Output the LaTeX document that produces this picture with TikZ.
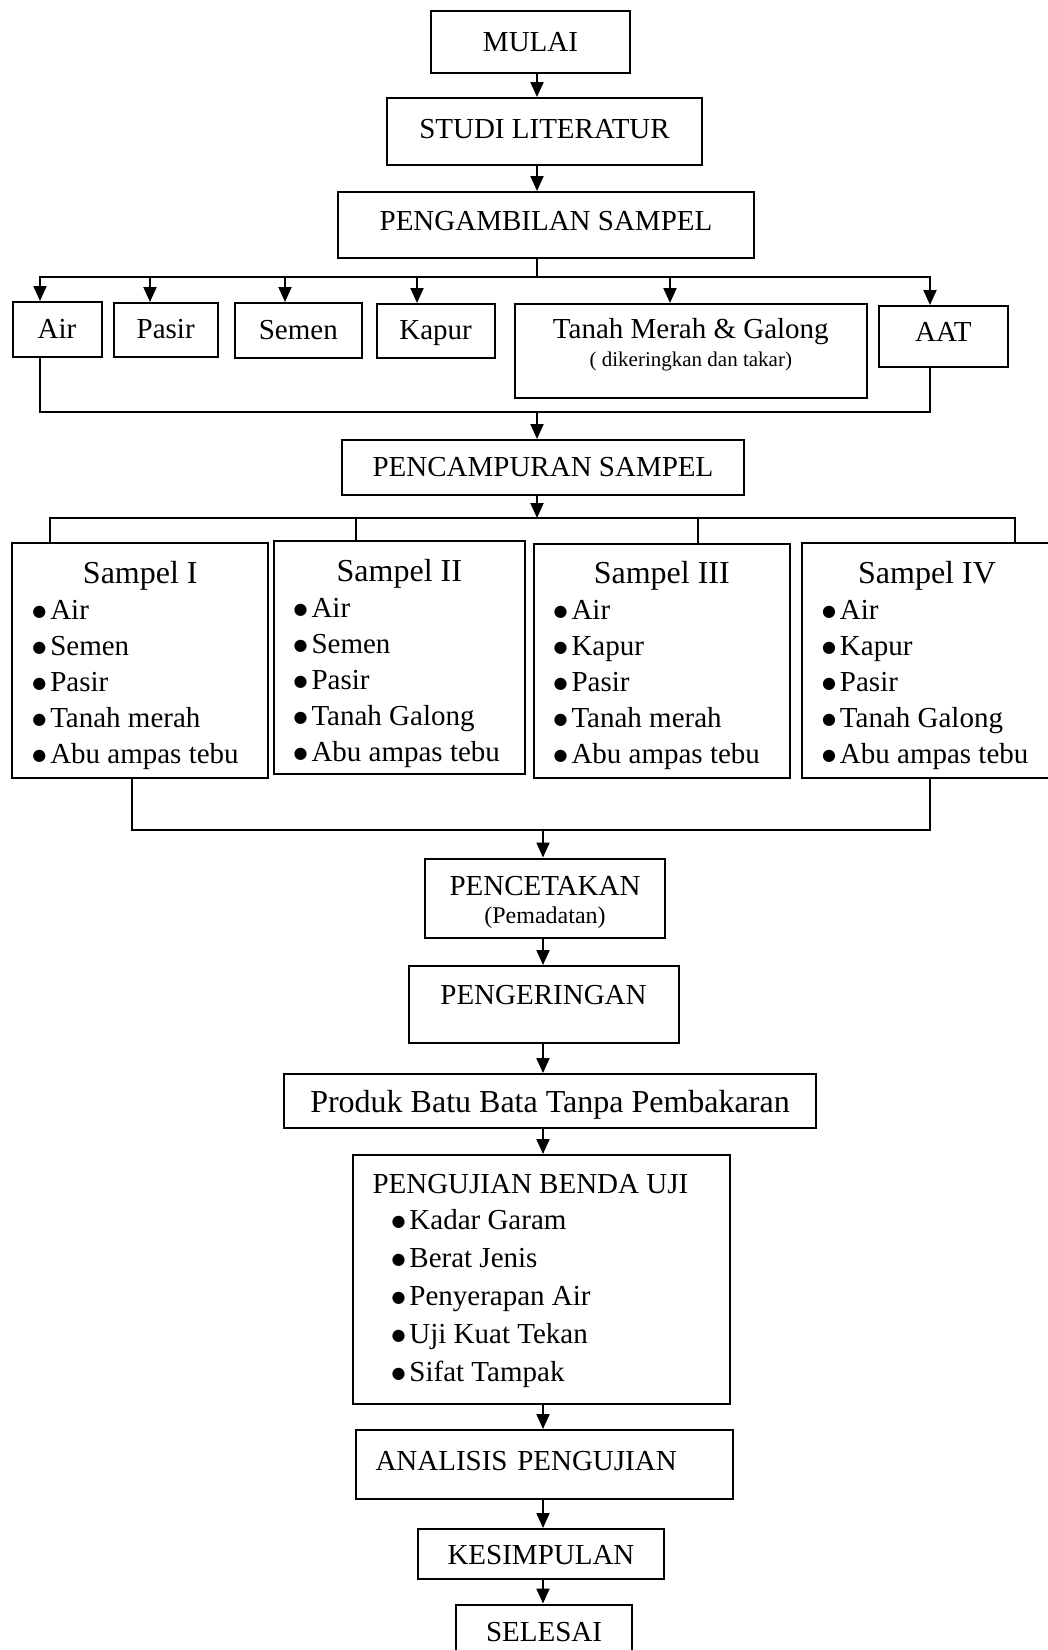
\documentclass[tikz,border=0pt]{standalone}
\usepackage{fontspec}
\setmainfont{Liberation Serif}
\newfontfamily\simbol{DejaVu Sans}
\newcommand{\titik}{{\simbol\fontsize{16}{16}\selectfont\raisebox{2.5pt}{●}}\hspace{4pt}}
\usepackage{tikz}
\usetikzlibrary{arrows.meta,positioning}

\begin{document}
\begin{tikzpicture}[x=1pt, y=-1pt,
    font=\fontsize{29}{36}\selectfont,
    box/.style={draw, line width=2pt, inner sep=0pt, anchor=north},
    garis/.style={line width=2pt},
    panah/.style={line width=2pt, -{Triangle[length=15pt, width=13pt]}}]
    \useasboundingbox (0,0) rectangle (1048,1650);

    % sumbu tengah dan titik cabang
    \coordinate (axis) at (537,0);
    \coordinate (axisb) at (543,0);
    \coordinate (bus1) at (537,277);
    \coordinate (kumpul1) at (537,412);
    \coordinate (bus2) at (537,518);
    \coordinate (kumpul2) at (543,830);

    % Mulai - pengambilan sampel
    \node[box, minimum width=199pt, text height=40pt, text depth=22pt] (mulai) at (530.5,10) {MULAI};
    \node[box, minimum width=315pt, text height=40pt, text depth=27pt] (studi) at (544.5,97) {STUDI LITERATUR};
    \node[box, minimum width=416pt, text height=38pt, text depth=28pt] (ambil) at (546,191) {PENGAMBILAN SAMPEL};
    \draw[panah] (mulai.south -| axis) -- (studi.north -| axis);
    \draw[panah] (studi.south -| axis) -- (ambil.north -| axis);
    \draw[garis] (ambil.south -| axis) -- (bus1);

    % Bahan
    \node[box, minimum width=89pt, text height=36pt, text depth=19pt] (air) at (57,301) {Air};
    \node[box, minimum width=104pt, text height=35pt, text depth=19pt] (pasir) at (165.7,302) {Pasir};
    \node[box, minimum width=127pt, text height=36pt, text depth=19pt] (semen) at (298.3,302) {Semen};
    \node[box, minimum width=118pt, text height=35pt, text depth=19pt] (kapur) at (435.6,303) {Kapur};
    \node[box, minimum width=352pt, text height=34pt, text depth=60pt] (tanah) at (690.8,303)
        {\begin{tabular}[t]{@{}c@{}}Tanah Merah \& Galong\\[-8pt]
         {\fontsize{21}{24}\selectfont ( dikeringkan dan takar)}\end{tabular}};
    \node[box, minimum width=129pt, text height=35pt, text depth=26pt] (aat) at (943.3,305) {AAT};

    \draw[garis, line cap=rect] (40,277) -- (930,277);
    \foreach \n/\x in {air/40, pasir/150, semen/285, kapur/417, tanah/670, aat/930}
        \draw[panah] (\x,277) -- (\x,0 |- \n.north);
    \draw[garis] (40,0 |- air.south) -- (40,412) -- (930,412) -- (930,0 |- aat.south);

    % Pencampuran
    \node[box, minimum width=402pt, text height=36pt, text depth=19pt] (campur) at (543,439) {PENCAMPURAN SAMPEL};
    \draw[panah] (kumpul1) -- (campur.north -| axis);
    \draw[panah] (campur.south -| axis) -- (bus2);

    % Sampel I - IV
    \node[box, inner xsep=20pt, text height=40pt, text depth=195pt] (s1) at (140.3,542)
        {\begin{tabular}[t]{@{}p{216pt}@{}}\multicolumn{1}{c}{\fontsize{32}{36}\selectfont Sampel I}\\
         \titik Air\\ \titik Semen\\ \titik Pasir\\ \titik Tanah merah\\ \titik Abu ampas tebu\end{tabular}};
    \node[box, inner xsep=20pt, text height=40pt, text depth=193pt] (s2) at (399.3,540)
        {\begin{tabular}[t]{@{}p{211.5pt}@{}}\multicolumn{1}{c}{\fontsize{32}{36}\selectfont Sampel II}\\
         \titik Air\\ \titik Semen\\ \titik Pasir\\ \titik Tanah Galong\\ \titik Abu ampas tebu\end{tabular}};
    \node[box, inner xsep=20pt, text height=39pt, text depth=195pt] (s3) at (661.8,543)
        {\begin{tabular}[t]{@{}p{216.5pt}@{}}\multicolumn{1}{c}{\fontsize{32}{36}\selectfont Sampel III}\\
         \titik Air\\ \titik Kapur\\ \titik Pasir\\ \titik Tanah merah\\ \titik Abu ampas tebu\end{tabular}};
    \node[box, inner xsep=20pt, text height=40pt, text depth=195pt] (s4) at (927,542)
        {\begin{tabular}[t]{@{}p{210pt}@{}}\multicolumn{1}{c}{\fontsize{32}{36}\selectfont Sampel IV}\\
         \titik Air\\ \titik Kapur\\ \titik Pasir\\ \titik Tanah Galong\\ \titik Abu ampas tebu\end{tabular}};

    \draw[garis, line cap=rect] (50,518) -- (1015,518);
    \foreach \n/\x in {s1/50, s2/356, s3/698, s4/1015}
        \draw[garis] (\x,518) -- (\x,0 |- \n.north);
    \draw[garis] (132,0 |- s1.south) -- (132,830) -- (930,830) -- (930,0 |- s4.south);

    % Pencetakan - selesai
    \node[box, minimum width=240pt, text height=36.5pt, text depth=42.5pt] (cetak) at (545,857.5)
        {\begin{tabular}[t]{@{}c@{}}PENCETAKAN\\[-8pt]
         {\fontsize{24}{28}\selectfont (Pemadatan)}\end{tabular}};
    \node[box, minimum width=270pt, text height=38pt, text depth=39pt] (kering) at (543.5,965) {PENGERINGAN};
    \node[box, minimum width=532pt, text height=38pt, text depth=16pt, font=\fontsize{32}{36}\selectfont] (produk) at (550,1073)
        {Produk Batu Bata Tanpa Pembakaran};
    \node[box, inner xsep=20pt, text height=38pt, text depth=210.6pt, font=\fontsize{29}{38}\selectfont] (uji) at (541,1154)
        {\begin{tabular}[t]{@{}p{337pt}@{}}PENGUJIAN BENDA UJI\\[-2pt]
         \hspace*{19pt}\titik Kadar Garam\\ \hspace*{19pt}\titik Berat Jenis\\
         \hspace*{19pt}\titik Penyerapan Air\\ \hspace*{19pt}\titik Uji Kuat Tekan\\
         \hspace*{19pt}\titik Sifat Tampak\end{tabular}};
    \node[box, inner xsep=20pt, text width=337pt, align=left, text height=40pt, text depth=29pt] (analisis) at (544,1429)
        {ANALISIS PENGUJIAN};
    \node[box, minimum width=246pt, text height=35pt, text depth=15pt] (simpul) at (541,1528) {KESIMPULAN};
    \node[box, minimum width=176pt, text height=36.5pt, text depth=25pt] (selesai) at (544,1603.5) {SELESAI};

    \draw[panah] (kumpul2) -- (cetak.north -| axisb);
    \draw[panah] (cetak.south -| axisb) -- (kering.north -| axisb);
    \draw[panah] (kering.south -| axisb) -- (produk.north -| axisb);
    \draw[panah] (produk.south -| axisb) -- (uji.north -| axisb);
    \draw[panah] (uji.south -| axisb) -- (analisis.north -| axisb);
    \draw[panah] (analisis.south -| axisb) -- (simpul.north -| axisb);
    \draw[panah] (simpul.south -| axisb) -- (selesai.north -| axisb);
\end{tikzpicture}
\end{document}
